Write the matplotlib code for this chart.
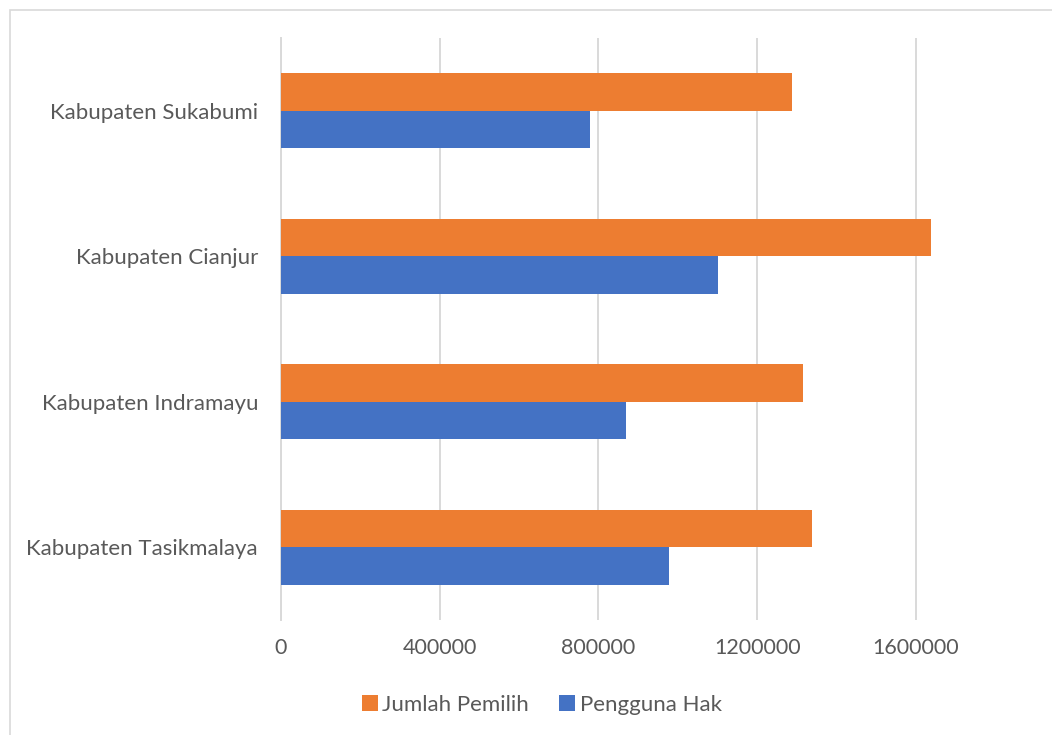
import matplotlib.pyplot as plt
import numpy as np
from matplotlib.patches import Rectangle

plt.rcParams['font.family'] = ['Lato', 'DejaVu Sans']

# bottom-to-top order on the category axis
categories = ["Kabupaten Tasikmalaya", "Kabupaten Indramayu", "Kabupaten Cianjur", "Kabupaten Sukabumi"]
jumlah_pemilih = [1339000, 1315000, 1639000, 1288000]
pengguna_hak = [978700, 869600, 1101500, 778800]
xticks = [0, 400000, 800000, 1200000, 1600000]

orange = "#ED7D31"
blue = "#4472C4"
text_col = "#595959"
grid_col = "#D9D9D9"

fig = plt.figure(figsize=(10.52, 7.35), dpi=100)
ax = fig.add_axes([0.2671, 0.1565, 0.679, 0.7915])

y = np.arange(len(categories))
h = 0.258
ax.barh(y + h / 2, jumlah_pemilih, height=h, color=orange, label="Jumlah Pemilih", zorder=3)
ax.barh(y - h / 2, pengguna_hak, height=h, color=blue, label="Pengguna Hak", zorder=3)

ax.set_xlim(0, 1800000)
ax.set_ylim(-0.5, len(categories) - 0.5)
ax.set_xticks(xticks)
ax.set_xticklabels([str(v) for v in xticks])
ax.set_yticks(y)
ax.set_yticklabels(categories)
ax.tick_params(axis='both', length=0, colors=text_col)
ax.tick_params(axis='x', pad=13, labelsize=15.5)
ax.tick_params(axis='y', pad=16.5, labelsize=16)

ax.grid(axis='x', color=grid_col, linewidth=1.4, zorder=0)
for s in ['top', 'right', 'bottom']:
    ax.spines[s].set_visible(False)
ax.spines['left'].set_color(grid_col)
ax.spines['left'].set_linewidth(1.4)

# chart frame (only top and left edges fall inside the image)
fig.patches.append(Rectangle((10 / 1052, -0.1), 1.2, 1 - 10 / 735 + 0.1, transform=fig.transFigure,
                             fill=False, edgecolor=grid_col, linewidth=1.2))

fig.legend(loc='center', bbox_to_anchor=(0.515, 0.041), ncol=2, frameon=False,
           fontsize=16, labelcolor=text_col, handlelength=0.72, handleheight=0.72,
           handletextpad=0.2, columnspacing=1.35)

fig.savefig("out.png", dpi=100)
